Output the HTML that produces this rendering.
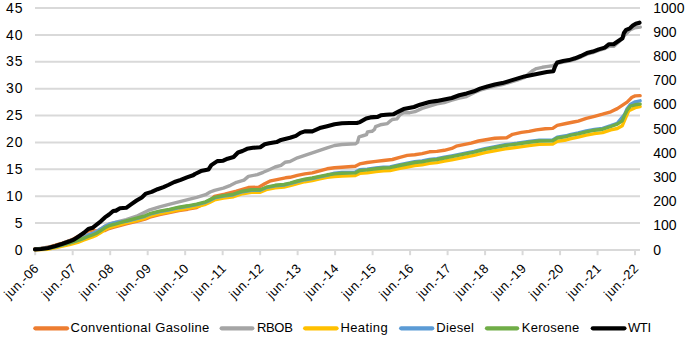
<!DOCTYPE html>
<html><head><meta charset="utf-8"><style>
html,body{margin:0;padding:0;background:#fff;}
svg{display:block;}
text{font-family:"Liberation Sans",sans-serif;font-size:13px;fill:#000;}
.ax text{font-size:14px;letter-spacing:1.0px}
.axr text{font-size:14px;}
</style></head><body>
<svg width="685" height="337" viewBox="0 0 685 337">
<rect width="685" height="337" fill="#fff"/>
<g stroke="#D9D9D9" stroke-width="2" fill="none">
<line x1="35" y1="249.90" x2="640" y2="249.90"/>
<line x1="35" y1="223.02" x2="640" y2="223.02"/>
<line x1="35" y1="196.14" x2="640" y2="196.14"/>
<line x1="35" y1="169.27" x2="640" y2="169.27"/>
<line x1="35" y1="142.39" x2="640" y2="142.39"/>
<line x1="35" y1="115.51" x2="640" y2="115.51"/>
<line x1="35" y1="88.63" x2="640" y2="88.63"/>
<line x1="35" y1="61.76" x2="640" y2="61.76"/>
<line x1="35" y1="34.88" x2="640" y2="34.88"/>
<line x1="35" y1="8.00" x2="640" y2="8.00"/>
<line x1="35.20" y1="249.9" x2="35.20" y2="255.2"/>
<line x1="72.69" y1="249.9" x2="72.69" y2="255.2"/>
<line x1="110.18" y1="249.9" x2="110.18" y2="255.2"/>
<line x1="147.67" y1="249.9" x2="147.67" y2="255.2"/>
<line x1="185.16" y1="249.9" x2="185.16" y2="255.2"/>
<line x1="222.65" y1="249.9" x2="222.65" y2="255.2"/>
<line x1="260.14" y1="249.9" x2="260.14" y2="255.2"/>
<line x1="297.63" y1="249.9" x2="297.63" y2="255.2"/>
<line x1="335.12" y1="249.9" x2="335.12" y2="255.2"/>
<line x1="372.61" y1="249.9" x2="372.61" y2="255.2"/>
<line x1="410.10" y1="249.9" x2="410.10" y2="255.2"/>
<line x1="447.59" y1="249.9" x2="447.59" y2="255.2"/>
<line x1="485.08" y1="249.9" x2="485.08" y2="255.2"/>
<line x1="522.57" y1="249.9" x2="522.57" y2="255.2"/>
<line x1="560.06" y1="249.9" x2="560.06" y2="255.2"/>
<line x1="597.55" y1="249.9" x2="597.55" y2="255.2"/>
<line x1="635.04" y1="249.9" x2="635.04" y2="255.2"/>
</g>
<g text-anchor="end" class="ax">
<text x="23.5" y="254.60">0</text>
<text x="23.5" y="227.72">5</text>
<text x="23.5" y="200.84">10</text>
<text x="23.5" y="173.97">15</text>
<text x="23.5" y="147.09">20</text>
<text x="23.5" y="120.21">25</text>
<text x="23.5" y="93.33">30</text>
<text x="23.5" y="66.46">35</text>
<text x="23.5" y="39.58">40</text>
<text x="23.5" y="12.70">45</text>
</g><g class="axr">
<text x="653.3" y="254.60">0</text>
<text x="653.3" y="230.41">100</text>
<text x="653.3" y="206.22">200</text>
<text x="653.3" y="182.03">300</text>
<text x="653.3" y="157.84">400</text>
<text x="653.3" y="133.65">500</text>
<text x="653.3" y="109.46">600</text>
<text x="653.3" y="85.27">700</text>
<text x="653.3" y="61.08">800</text>
<text x="653.3" y="36.89">900</text>
<text x="653.3" y="12.70">1000</text>
</g>
<g text-anchor="end">
<text transform="translate(39.40,269.5) rotate(-45)" textLength="42.3" lengthAdjust="spacing">jun.-06</text>
<text transform="translate(76.89,269.5) rotate(-45)" textLength="42.3" lengthAdjust="spacing">jun.-07</text>
<text transform="translate(114.38,269.5) rotate(-45)" textLength="42.3" lengthAdjust="spacing">jun.-08</text>
<text transform="translate(151.87,269.5) rotate(-45)" textLength="42.3" lengthAdjust="spacing">jun.-09</text>
<text transform="translate(189.36,269.5) rotate(-45)" textLength="42.3" lengthAdjust="spacing">jun.-10</text>
<text transform="translate(226.85,269.5) rotate(-45)" textLength="42.3" lengthAdjust="spacing">jun.-11</text>
<text transform="translate(264.34,269.5) rotate(-45)" textLength="42.3" lengthAdjust="spacing">jun.-12</text>
<text transform="translate(301.83,269.5) rotate(-45)" textLength="42.3" lengthAdjust="spacing">jun.-13</text>
<text transform="translate(339.32,269.5) rotate(-45)" textLength="42.3" lengthAdjust="spacing">jun.-14</text>
<text transform="translate(376.81,269.5) rotate(-45)" textLength="42.3" lengthAdjust="spacing">jun.-15</text>
<text transform="translate(414.30,269.5) rotate(-45)" textLength="42.3" lengthAdjust="spacing">jun.-16</text>
<text transform="translate(451.79,269.5) rotate(-45)" textLength="42.3" lengthAdjust="spacing">jun.-17</text>
<text transform="translate(489.28,269.5) rotate(-45)" textLength="42.3" lengthAdjust="spacing">jun.-18</text>
<text transform="translate(526.77,269.5) rotate(-45)" textLength="42.3" lengthAdjust="spacing">jun.-19</text>
<text transform="translate(564.26,269.5) rotate(-45)" textLength="42.3" lengthAdjust="spacing">jun.-20</text>
<text transform="translate(601.75,269.5) rotate(-45)" textLength="42.3" lengthAdjust="spacing">jun.-21</text>
<text transform="translate(639.24,269.5) rotate(-45)" textLength="42.3" lengthAdjust="spacing">jun.-22</text>
</g>
<g fill="none" stroke-linejoin="round" stroke-linecap="round">
<path d="M35.0,248.8 L41.0,248.4 L48.0,247.3 L55.4,245.2 L62.5,243.0 L69.6,240.5 L74.0,238.7 L79.3,235.8 L83.8,233.1 L88.2,231.0 L92.0,230.3 L96.0,231.0 L100.0,230.8 L104.9,230.6 L109.1,228.5 L113.2,227.3 L116.0,226.6 L126.2,223.8 L136.6,221.4 L145.0,219.2 L149.8,217.1 L159.6,214.6 L169.4,212.7 L178.9,210.6 L187.8,209.2 L196.7,207.5 L210.1,200.3 L214.3,196.4 L224.7,194.2 L236.5,191.2 L248.4,187.5 L258.8,187.2 L264.7,183.8 L270.7,180.8 L278.1,179.3 L285.5,177.8 L290.0,177.3 L297.4,175.4 L304.8,173.9 L312.3,172.9 L319.7,170.9 L327.1,168.8 L334.5,167.7 L341.9,167.2 L355.3,166.2 L359.7,163.9 L367.2,162.5 L376.0,161.4 L383.5,160.5 L392.4,159.5 L399.8,157.3 L407.3,155.4 L414.7,154.8 L422.1,153.6 L429.5,151.8 L436.9,151.4 L444.3,150.3 L451.8,148.4 L456.2,146.2 L463.6,144.7 L471.1,143.2 L478.5,141.0 L487.4,139.5 L494.8,138.3 L506.7,137.7 L512.6,134.3 L521.5,132.4 L529.0,131.4 L536.4,129.9 L545.3,128.8 L552.7,128.4 L557.2,125.4 L566.1,123.5 L573.5,122.0 L578.2,121.1 L586.3,118.3 L594.5,116.3 L602.6,114.2 L610.8,111.8 L617.3,108.6 L622.2,105.4 L627.1,102.1 L632.0,97.2 L635.2,95.9 L640.1,95.6" stroke="#ED7D31" stroke-width="3.4"/>
<path d="M35.0,249.3 L55.0,246.3 L68.9,240.8 L77.8,238.3 L84.0,236.3 L88.3,234.6 L92.5,233.3 L96.6,231.4 L100.8,228.8 L104.9,226.1 L109.1,224.0 L113.2,222.8 L120.0,221.1 L126.2,219.7 L136.6,216.2 L140.0,214.6 L149.8,209.8 L159.6,206.8 L170.0,204.1 L178.9,201.8 L187.8,199.6 L196.7,197.4 L205.6,194.7 L210.1,192.0 L214.5,190.3 L223.4,188.1 L230.6,185.3 L236.5,182.3 L244.0,180.1 L248.4,176.4 L257.3,174.6 L263.2,172.3 L269.2,169.7 L275.1,167.0 L281.0,165.3 L285.0,162.3 L290.0,161.5 L297.4,157.8 L304.8,155.3 L312.3,152.9 L319.7,150.4 L327.1,147.9 L334.5,145.5 L341.9,144.5 L355.3,143.8 L357.5,142.3 L359.0,136.9 L363.7,135.5 L366.5,134.6 L367.5,131.9 L372.0,131.3 L374.5,129.3 L375.6,126.6 L380.3,124.8 L387.4,123.6 L390.5,120.8 L392.2,119.5 L396.9,118.9 L400.0,114.7 L403.6,112.8 L409.8,112.7 L415.0,111.7 L422.1,108.4 L429.5,106.2 L436.9,103.9 L444.3,102.5 L451.8,100.2 L459.2,98.0 L466.6,96.5 L474.0,92.8 L480.0,90.1 L487.4,88.0 L494.8,86.1 L502.3,84.6 L509.7,82.4 L517.1,80.1 L524.0,77.6 L528.4,74.0 L533.0,70.4 L536.4,68.6 L542.3,67.3 L548.2,66.4 L552.7,65.8 L555.0,64.5 L557.2,63.4 L563.1,62.1 L569.0,61.1 L575.0,59.3 L580.9,57.0 L586.9,54.1 L592.8,52.6 L598.7,50.4 L604.7,48.6 L609.0,46.4 L613.6,46.4 L619.5,41.2 L625.4,34.5 L629.9,30.1 L634.3,27.9 L640.3,27.1" stroke="#A5A5A5" stroke-width="3.4"/>
<path d="M35.0,249.7 L48.0,249.2 L55.0,247.9 L62.5,246.2 L69.6,244.5 L77.8,242.4 L84.0,240.0 L88.3,238.4 L92.5,236.9 L96.6,235.1 L100.8,232.5 L104.9,229.7 L109.1,227.6 L113.2,226.4 L116.0,225.7 L126.2,222.9 L136.6,220.5 L145.0,218.3 L149.8,216.2 L159.6,213.7 L169.4,211.8 L178.9,209.7 L187.8,208.3 L196.7,206.6 L205.6,204.3 L210.1,202.1 L214.5,199.9 L223.4,198.1 L233.6,196.7 L242.5,193.7 L251.4,192.2 L260.3,192.2 L266.2,189.7 L275.1,187.8 L284.0,187.0 L290.0,185.7 L297.4,183.5 L304.8,181.7 L312.3,180.6 L319.7,178.9 L327.1,177.4 L334.5,176.6 L341.9,176.0 L355.3,175.6 L359.7,173.4 L367.2,172.7 L376.0,171.6 L383.5,170.9 L390.0,170.6 L399.8,168.4 L407.3,167.0 L414.7,165.5 L422.1,164.8 L429.5,163.4 L436.9,162.6 L444.3,161.1 L451.8,159.8 L459.2,158.3 L466.6,156.8 L474.0,155.4 L485.0,152.7 L505.2,148.9 L517.1,147.4 L529.0,145.6 L539.3,144.4 L552.7,144.1 L557.2,141.4 L566.1,140.0 L570.0,138.8 L578.2,137.2 L586.3,135.2 L594.5,133.6 L602.6,132.6 L610.8,129.9 L617.3,128.5 L622.2,125.8 L625.4,118.4 L628.7,110.8 L635.2,107.6 L640.1,106.6" stroke="#FFC000" stroke-width="3.4"/>
<path d="M35.0,249.4 L48.0,248.4 L55.0,246.8 L62.5,244.8 L69.6,242.8 L77.8,240.4 L84.0,238.1 L88.3,235.2 L92.5,233.7 L96.6,231.9 L100.8,229.3 L104.9,226.5 L109.1,224.4 L113.2,223.2 L116.0,222.5 L126.2,221.3 L136.6,218.6 L145.0,216.3 L149.8,214.2 L159.6,211.7 L169.4,209.8 L178.9,207.7 L187.8,206.3 L196.7,204.6 L205.6,202.3 L210.1,200.1 L214.5,197.9 L223.4,196.1 L233.6,194.7 L242.5,191.7 L251.4,190.2 L260.3,190.2 L266.2,187.7 L275.1,185.8 L284.0,185.0 L290.0,183.7 L297.4,181.5 L304.8,179.7 L312.3,178.5 L319.7,176.8 L327.1,175.3 L334.5,173.1 L341.9,172.5 L355.3,172.1 L359.7,169.8 L367.2,169.1 L376.0,168.0 L383.5,167.2 L390.0,166.9 L399.8,164.7 L407.3,163.2 L414.7,161.7 L422.1,161.0 L429.5,159.5 L436.9,158.7 L444.3,157.2 L451.8,155.8 L459.2,154.3 L466.6,152.8 L474.0,151.3 L485.0,148.6 L505.2,144.7 L517.1,143.2 L529.0,141.4 L539.3,140.2 L552.7,139.9 L557.2,137.2 L566.1,135.8 L570.0,134.6 L578.2,133.0 L586.3,131.0 L594.5,129.4 L602.6,128.4 L610.8,125.7 L617.3,123.3 L624.6,114.4 L627.1,108.8 L630.3,104.4 L635.2,101.8 L640.1,100.8" stroke="#5B9BD5" stroke-width="3.4"/>
<path d="M35.0,249.4 L48.0,248.4 L55.0,246.8 L62.5,244.8 L69.6,242.8 L77.8,240.4 L84.0,238.1 L88.3,236.5 L92.5,235.0 L96.6,233.2 L100.8,230.6 L104.9,227.8 L109.1,225.7 L113.2,224.5 L116.0,223.8 L126.2,220.8 L136.6,218.1 L145.0,215.8 L149.8,213.7 L159.6,211.2 L169.4,209.3 L178.9,207.2 L187.8,205.8 L196.7,204.1 L205.6,201.8 L210.1,199.6 L214.5,197.4 L223.4,195.6 L233.6,194.2 L242.5,191.2 L251.4,189.7 L260.3,189.7 L266.2,187.2 L275.1,185.3 L284.0,184.5 L290.0,183.2 L297.4,181.0 L304.8,179.2 L312.3,178.0 L319.7,176.3 L327.1,174.8 L334.5,173.9 L341.9,173.3 L355.3,172.9 L359.7,170.6 L367.2,169.9 L376.0,168.8 L383.5,168.0 L390.0,167.7 L399.8,165.5 L407.3,164.0 L414.7,162.5 L422.1,161.8 L429.5,160.3 L436.9,159.5 L444.3,158.0 L451.8,156.6 L459.2,155.1 L466.6,153.6 L474.0,152.1 L485.0,149.4 L505.2,145.5 L517.1,144.0 L529.0,142.2 L539.3,141.0 L552.7,140.7 L557.2,138.0 L566.1,136.6 L570.0,135.4 L578.2,133.8 L586.3,131.8 L594.5,130.2 L602.6,129.2 L610.8,126.5 L617.3,124.1 L622.2,120.9 L624.6,115.1 L627.1,110.3 L630.3,106.2 L635.2,104.8 L640.1,104.1" stroke="#70AD47" stroke-width="3.4"/>
<path d="M35.0,249.4 L41.0,249.0 L48.0,248.0 L55.4,246.0 L62.5,243.8 L69.6,241.3 L74.0,239.5 L79.3,236.0 L84.0,232.8 L88.3,229.0 L92.5,227.8 L96.6,224.6 L100.8,221.3 L104.9,217.4 L109.1,214.5 L113.2,211.0 L116.0,210.6 L120.0,208.3 L126.2,207.8 L131.4,204.1 L136.6,200.5 L141.8,197.4 L145.9,193.6 L151.7,191.9 L157.6,189.2 L163.5,187.1 L168.2,185.0 L174.4,182.0 L180.7,179.9 L186.9,177.4 L193.1,175.3 L195.0,174.0 L200.9,171.1 L208.4,169.6 L211.3,165.1 L217.3,161.1 L223.2,160.7 L227.6,158.7 L233.6,157.0 L238.0,152.5 L242.5,151.0 L247.0,148.8 L252.9,147.8 L260.3,147.3 L264.7,144.3 L269.2,143.3 L276.6,142.1 L281.0,139.9 L287.0,138.4 L290.0,137.8 L295.9,135.9 L300.4,132.9 L304.8,131.4 L312.3,131.4 L319.7,128.1 L327.1,126.2 L334.5,124.3 L341.9,123.2 L349.3,123.0 L356.8,123.0 L360.0,122.1 L366.2,118.4 L370.4,117.4 L377.6,116.9 L380.8,115.3 L386.0,114.8 L393.2,114.3 L398.4,111.7 L403.6,109.1 L408.8,108.1 L414.0,107.0 L420.0,104.7 L429.5,102.0 L436.9,100.9 L444.3,99.4 L451.8,98.0 L459.2,95.3 L466.6,93.4 L474.0,91.3 L480.0,88.6 L487.4,86.5 L494.8,84.6 L502.3,83.1 L509.7,80.9 L517.1,78.6 L524.5,76.4 L531.9,74.9 L539.3,73.4 L546.8,72.0 L553.4,71.2 L554.9,66.8 L557.2,62.4 L563.1,61.1 L569.0,60.1 L575.0,58.3 L580.9,56.0 L586.9,53.1 L592.8,51.6 L598.7,49.4 L604.7,47.6 L609.1,44.2 L613.6,44.2 L618.0,41.2 L622.5,38.2 L623.9,33.0 L626.2,29.8 L629.9,28.3 L632.8,25.6 L635.8,23.8 L639.5,22.7" stroke="#000000" stroke-width="4.1"/>
</g>
<g stroke-linecap="round">
<line x1="35.4" y1="328.3" x2="67.0" y2="328.3" stroke="#ED7D31" stroke-width="4.3"/>
<line x1="221.7" y1="328.3" x2="252.3" y2="328.3" stroke="#A5A5A5" stroke-width="4.3"/>
<line x1="305.2" y1="328.3" x2="336.5" y2="328.3" stroke="#FFC000" stroke-width="4.3"/>
<line x1="401.2" y1="328.3" x2="432.2" y2="328.3" stroke="#5B9BD5" stroke-width="4.3"/>
<line x1="487.0" y1="328.3" x2="517.1" y2="328.3" stroke="#70AD47" stroke-width="4.3"/>
<line x1="592.8" y1="328.3" x2="624.4" y2="328.3" stroke="#000000" stroke-width="4.3"/>
</g>
<text x="70.6" y="332.2" textLength="138.7" lengthAdjust="spacing">Conventional Gasoline</text>
<text x="256.9" y="332.2" textLength="35.9" lengthAdjust="spacing">RBOB</text>
<text x="340.4" y="332.2" textLength="47.3" lengthAdjust="spacing">Heating</text>
<text x="436.3" y="332.2" textLength="37.5" lengthAdjust="spacing">Diesel</text>
<text x="521.7" y="332.2" textLength="57.6" lengthAdjust="spacing">Kerosene</text>
<text x="627.9" y="332.2" textLength="23.1" lengthAdjust="spacing">WTI</text>
</svg></body></html>
